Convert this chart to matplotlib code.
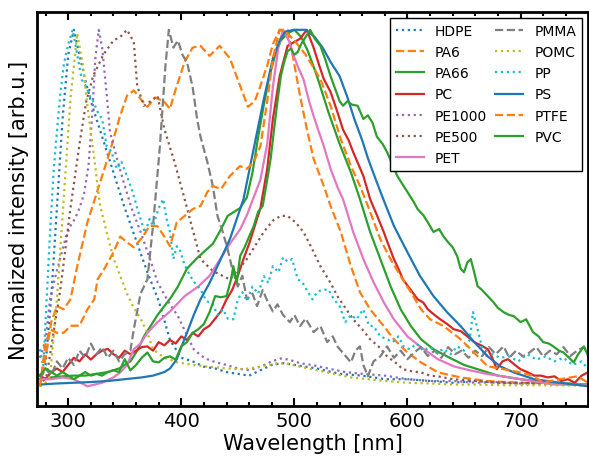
# %%
import numpy as np
import matplotlib
matplotlib.use('Agg')
import matplotlib.pyplot as plt
from matplotlib.ticker import MultipleLocator

# %%
# normalized emission spectra (wavelength in nm)
hdpe_wl = [275, 280, 285, 290, 295, 300, 305, 310, 315, 320, 330, 340, 350, 360, 370, 380, 390, 400, 410,
           420, 430, 440, 450, 460, 470, 480, 490, 500, 510, 520, 540, 560, 580, 600, 620, 640, 660, 680,
           700, 720, 740, 760]
hdpe_int = [0.03, 0.06, 0.25, 0.5, 0.75, 0.93, 1.0, 0.93, 0.86, 0.8, 0.7, 0.6, 0.5, 0.41, 0.32, 0.24, 0.13,
            0.08, 0.07, 0.055, 0.05, 0.04, 0.035, 0.03, 0.045, 0.06, 0.065, 0.06, 0.055, 0.05, 0.035, 0.03,
            0.02, 0.02, 0.015, 0.01, 0.015, 0.01, 0.008, 0.01, 0.005, 0.005]

pa6_wl = [275, 280, 285, 290, 296, 302, 308, 317, 326, 337, 346, 352, 358, 364, 370, 377, 385, 390, 396,
          403, 410, 417, 425, 434, 443, 452, 459, 465, 470, 476, 481, 487, 494, 499, 505, 511, 517, 526,
          532, 541, 550, 558, 567, 579, 588, 600, 612, 627, 647, 670, 700, 730, 760]
pa6_int = [0.0, 0.08, 0.18, 0.225, 0.216, 0.244, 0.337, 0.46, 0.55, 0.66, 0.76, 0.815, 0.83, 0.806,
           0.784, 0.81, 0.798, 0.778, 0.843, 0.91, 0.95, 0.955, 0.927, 0.955, 0.92, 0.843, 0.784, 0.80,
           0.843, 0.90, 0.96, 1.0, 1.0, 0.92, 0.815, 0.722, 0.638, 0.562, 0.506, 0.433, 0.337, 0.264,
           0.216, 0.169, 0.132, 0.095, 0.067, 0.039, 0.025, 0.015, 0.01, 0.008, 0.005]

pa66_wl = [275, 285, 295, 305, 315, 325, 335, 345, 355, 361, 367, 373, 379, 385, 391, 397, 405, 414, 421,
           428, 435, 441, 447, 452, 458, 463, 468, 473, 478, 483, 488, 494, 500, 506, 512, 520, 530, 540,
           550, 558, 567, 576, 585, 594, 603, 612, 623, 635, 650, 665, 680, 700, 720, 740, 760]
pa66_int = [0.02, 0.025, 0.028, 0.03, 0.03, 0.035, 0.04, 0.05, 0.07, 0.1, 0.14, 0.17, 0.2, 0.225, 0.25,
            0.28, 0.33, 0.36, 0.38, 0.40, 0.44, 0.478, 0.49, 0.50, 0.53, 0.6, 0.7, 0.79, 0.87, 0.93, 0.97,
            0.99, 1.0, 0.98, 0.94, 0.87, 0.77, 0.68, 0.6, 0.525, 0.433, 0.357, 0.281, 0.216, 0.169, 0.132,
            0.104, 0.084, 0.06, 0.045, 0.03, 0.02, 0.012, 0.008, 0.005]

pc_wl = [275, 280, 285, 290, 295, 300, 305, 310, 315, 320, 325, 330, 335, 340, 345, 350, 355, 360, 365,
         370, 375, 380, 385, 390, 395, 400, 405, 410, 415, 420, 425, 430, 435, 440, 445, 450, 455, 460,
         465, 470, 476, 481, 487, 494, 500, 505, 511, 517, 522, 526, 532, 538, 543, 548, 552, 557, 561,
         567, 573, 579, 584, 588, 592, 596, 603, 609, 614, 618, 624, 629, 635, 641, 647, 653, 659, 665,
         671, 675, 679, 684, 689, 695, 700, 706, 712, 718, 724, 730, 736, 742, 748, 754, 760]
pc_int = [0.03, 0.02, 0.04, 0.05, 0.04, 0.06, 0.08, 0.07, 0.09, 0.075, 0.09, 0.1, 0.105, 0.09, 0.08, 0.1,
          0.09, 0.1, 0.11, 0.112, 0.1, 0.124, 0.115, 0.13, 0.12, 0.14, 0.13, 0.15, 0.14, 0.16, 0.17, 0.19,
          0.21, 0.244, 0.27, 0.31, 0.357, 0.40, 0.45, 0.5, 0.61, 0.75, 0.87, 0.955, 0.966, 0.975, 1.0,
          0.95, 0.9, 0.862, 0.826, 0.77, 0.72, 0.69, 0.657, 0.62, 0.59, 0.525, 0.48, 0.433, 0.39, 0.357,
          0.33, 0.30, 0.27, 0.244, 0.235, 0.216, 0.2, 0.188, 0.175, 0.16, 0.155, 0.14, 0.124, 0.115, 0.104,
          0.08, 0.048, 0.07, 0.076, 0.06, 0.048, 0.04, 0.03, 0.03, 0.025, 0.028, 0.015, 0.02, 0.01, 0.03,
          0.04]

pe1000_wl = [275, 280, 284, 288, 293, 298, 302, 306, 310, 314, 318, 321, 324, 327, 330, 334, 337, 343, 349,
             356, 364, 372, 379, 388, 397, 404, 411, 418, 423, 430, 440, 450, 460, 470, 480, 488, 495, 505,
             515, 530, 545, 560, 580, 600, 620, 640, 660, 680, 700, 720, 740, 760]
pe1000_int = [0.08, 0.13, 0.244, 0.30, 0.36, 0.42, 0.45, 0.47, 0.5, 0.54, 0.62, 0.75, 0.92, 1.0, 0.95,
              0.82, 0.713, 0.64, 0.573, 0.50, 0.433, 0.36, 0.292, 0.24, 0.197, 0.15, 0.104, 0.085, 0.076,
              0.068, 0.06, 0.05, 0.045, 0.055, 0.07, 0.078, 0.075, 0.065, 0.06, 0.05, 0.04, 0.035, 0.03,
              0.02, 0.015, 0.015, 0.01, 0.012, 0.008, 0.01, 0.006, 0.005]

pe500_wl = [275, 281, 287, 293, 302, 310, 316, 322, 331, 340, 346, 352, 358, 361, 367, 373, 379, 385, 394,
            403, 410, 417, 428, 443, 458, 473, 481, 488, 494, 501, 508, 515, 523, 532, 538, 545, 552, 560,
            567, 575, 582, 590, 596, 604, 612, 620, 627, 640, 660, 680, 700, 730, 760]
pe500_int = [0.0, 0.03, 0.15, 0.27, 0.5, 0.68, 0.8, 0.87, 0.93, 0.97, 0.98, 1.0, 0.966, 0.843, 0.787,
             0.80, 0.815, 0.722, 0.629, 0.525, 0.44, 0.357, 0.323, 0.30, 0.357, 0.433, 0.465, 0.478, 0.478,
             0.46, 0.433, 0.39, 0.337, 0.29, 0.253, 0.22, 0.188, 0.16, 0.132, 0.11, 0.084, 0.065, 0.048,
             0.042, 0.039, 0.03, 0.028, 0.02, 0.015, 0.01, 0.01, 0.005, 0.005]

pet_wl = [275, 285, 295, 305, 317, 330, 340, 346, 352, 358, 364, 370, 379, 390, 403, 415, 425, 435, 443,
          452, 458, 464, 470, 476, 481, 486, 490, 495, 499, 504, 508, 513, 517, 521, 526, 532, 538, 543,
          552, 561, 570, 579, 588, 600, 611, 627, 641, 655, 670, 690, 710, 730, 760]
pet_int = [0.02, 0.02, 0.025, 0.02, 0.0, 0.01, 0.025, 0.039, 0.06, 0.104, 0.12, 0.15, 0.18, 0.21, 0.253,
           0.28, 0.31, 0.36, 0.40, 0.44, 0.48, 0.53, 0.58, 0.68, 0.84, 0.955, 1.0, 0.97, 0.93, 0.89, 0.862,
           0.80, 0.758, 0.72, 0.674, 0.61, 0.56, 0.525, 0.433, 0.357, 0.292, 0.236, 0.188, 0.14, 0.112,
           0.076, 0.056, 0.045, 0.035, 0.025, 0.015, 0.005, 0.005]

pmma_wl = [275, 280, 285, 290, 295, 300, 305, 310, 315, 320, 325, 330, 335, 340, 345, 350, 355,
           358, 364, 370, 375, 381, 386, 389, 393, 397, 401,
           405, 410, 414, 417, 423, 428, 432, 436, 441, 445,
           450, 454, 458, 463, 467, 472, 476, 481, 485, 490,
           496, 500, 505, 510, 517, 523, 529, 534, 538, 544,
           550, 554, 558, 561, 565, 570, 576, 582, 588, 594,
           600, 606, 612, 618, 624, 630, 636, 642, 648, 654,
           660, 666, 672, 678, 685, 690, 696, 702, 708, 714,
           720, 726, 732, 738, 744, 750, 756, 760]
pmma_int = [0.02, 0.05, 0.03, 0.07, 0.05, 0.08, 0.06, 0.1, 0.08, 0.12, 0.09, 0.11, 0.08, 0.1, 0.07, 0.09, 0.1,
            0.16, 0.26, 0.3, 0.45, 0.67, 0.9, 1.0, 0.95, 0.97, 0.93,
            0.91, 0.84, 0.75, 0.70, 0.63, 0.56, 0.478, 0.44, 0.385, 0.33,
            0.28, 0.31, 0.244, 0.26, 0.225, 0.27, 0.24, 0.21, 0.23, 0.20,
            0.18, 0.2, 0.169, 0.19, 0.152, 0.169, 0.124, 0.14, 0.112, 0.09,
            0.067, 0.1, 0.112, 0.06, 0.028, 0.07, 0.084, 0.112, 0.08, 0.1,
            0.076, 0.095, 0.11, 0.085, 0.1, 0.08, 0.11, 0.09, 0.1, 0.08,
            0.1, 0.085, 0.11, 0.09, 0.112, 0.08, 0.1, 0.084, 0.095, 0.11,
            0.084, 0.1, 0.09, 0.11, 0.085, 0.1, 0.11, 0.09]

pomc_wl = [275, 280, 284, 290, 296, 302, 308, 313, 318, 323, 328, 335, 340, 346, 352, 358, 364, 370, 375,
           385, 397, 410, 425, 440, 455, 470, 485, 495, 505, 520, 535, 550, 565, 580, 600, 620, 640, 660,
           690, 720, 760]
pomc_int = [0.0, 0.01, 0.03, 0.244, 0.525, 0.806, 0.99, 0.9, 0.76, 0.64, 0.51, 0.42, 0.36, 0.31, 0.26,
            0.22, 0.19, 0.15, 0.104, 0.08, 0.067, 0.06, 0.055, 0.05, 0.048, 0.055, 0.065, 0.063, 0.055,
            0.045, 0.035, 0.025, 0.02, 0.015, 0.01, 0.008, 0.005, 0.005, 0.003, 0.003, 0.002]

pp_wl = [275, 278, 281, 284, 287, 290, 293, 296, 300, 304,
         308, 312, 316, 319, 322, 326, 330, 334, 338, 343,
         347, 352, 357, 361, 364, 368, 372, 375, 380, 384,
         387, 390, 393, 396, 399, 403, 408, 412, 417, 422,
         428, 432, 437, 441, 446, 450, 454, 458, 463, 468,
         473, 477, 481, 486, 490, 494, 498, 503, 507, 512,
         516, 520, 524, 530, 535, 540, 545, 550, 555, 561,
         566, 570, 576, 582, 587, 592, 597, 602, 608, 614,
         620, 626, 632, 638, 644, 650, 655, 658, 662, 668,
         675, 682, 690, 698, 706, 714, 722, 730, 738, 746,
         754, 760]
pp_int = [0.104, 0.056, 0.25, 0.433, 0.6, 0.713, 0.82, 0.9, 0.96, 1.0,
          0.93, 0.86, 0.84, 0.815, 0.8, 0.77, 0.75, 0.674, 0.66, 0.61,
          0.63, 0.59, 0.545, 0.5, 0.469, 0.43, 0.47, 0.449, 0.5, 0.525,
          0.47, 0.433, 0.357, 0.393, 0.38, 0.34, 0.309, 0.29, 0.272, 0.24,
          0.23, 0.2, 0.216, 0.19, 0.188, 0.244, 0.264, 0.24, 0.28, 0.26,
          0.309, 0.29, 0.337, 0.32, 0.362, 0.35, 0.357, 0.30, 0.292, 0.264,
          0.244, 0.264, 0.27, 0.272, 0.244, 0.225, 0.18, 0.2, 0.188, 0.216,
          0.17, 0.169, 0.14, 0.132, 0.124, 0.14, 0.11, 0.104, 0.12, 0.1,
          0.11, 0.095, 0.105, 0.09, 0.112, 0.1, 0.13, 0.208, 0.16, 0.084,
          0.09, 0.08, 0.084, 0.07, 0.09, 0.075, 0.084, 0.07, 0.08, 0.06,
          0.07, 0.048]

ps_wl = [275, 290, 305, 320, 335, 350, 365, 375, 385, 390, 396, 400, 405, 411, 417, 425, 432, 443, 455, 464,
         473, 481, 487, 492, 500, 510, 518, 525, 532, 540, 547, 553, 560, 565, 572, 578, 588, 600, 611, 623,
         635, 647, 659, 671, 682, 694, 712, 735, 760]
ps_int = [0.005, 0.008, 0.01, 0.012, 0.015, 0.02, 0.025, 0.03, 0.04, 0.05, 0.076, 0.11, 0.15, 0.2, 0.244,
          0.29, 0.337, 0.413, 0.525, 0.666, 0.806, 0.92, 0.97, 0.995, 1.0, 1.0, 0.98, 0.95, 0.91, 0.87,
          0.81, 0.75, 0.69, 0.64, 0.58, 0.53, 0.45, 0.376, 0.31, 0.253, 0.208, 0.169, 0.124, 0.084, 0.056,
          0.039, 0.02, 0.01, 0.0]

ptfe_wl = [275, 280, 284, 290, 296, 302, 310, 317, 323, 326, 332, 340, 346, 352, 358, 366, 372, 379, 385,
           390, 396, 403, 410, 417, 423, 428, 435, 443, 452, 458, 464, 470, 476, 481, 487, 494, 500, 510,
           523, 532, 541, 550, 558, 565, 576, 585, 594, 603, 612, 620, 632, 647, 656, 671, 685, 700, 710,
           720, 735, 750, 760]
ptfe_int = [0.0, 0.12, 0.16, 0.15, 0.15, 0.17, 0.17, 0.216, 0.244, 0.3, 0.33, 0.376, 0.42, 0.404, 0.39,
            0.42, 0.45, 0.449, 0.42, 0.393, 0.46, 0.478, 0.497, 0.506, 0.545, 0.562, 0.553, 0.59, 0.618,
            0.61, 0.629, 0.674, 0.80, 0.92, 1.0, 0.99, 0.97, 0.93, 0.862, 0.787, 0.694, 0.618, 0.562, 0.506,
            0.413, 0.357, 0.309, 0.264, 0.216, 0.188, 0.169, 0.132, 0.104, 0.056, 0.048, 0.039, 0.03, 0.011,
            0.02, 0.028, 0.01]

pvc_wl = [275, 280, 285, 290, 295, 300, 305, 310, 315, 320, 325, 330, 335, 340, 345, 350, 355, 360, 365, 370,
          375, 380, 385, 390, 395, 400, 405, 410, 415, 420, 425, 430, 435, 440,
          444, 446, 449, 452, 456, 460, 464, 468, 472, 476,
          479, 482, 485, 488, 491, 494, 497, 500, 503, 506,
          510, 514, 518, 523, 527, 532, 536, 540, 543, 547,
          551, 556, 561, 565, 569, 573, 578, 582, 587, 591,
          596, 600, 605, 609, 614, 618, 623, 628, 632, 636,
          640, 644, 647, 650, 653, 656, 659, 662, 666, 671,
          676, 680, 685, 690, 694, 700, 705, 711, 716, 720,
          725, 729, 734, 738, 743, 747, 751, 756, 760]
pvc_int = [0.03, 0.05, 0.04, 0.03, 0.04, 0.03, 0.02, 0.03, 0.04, 0.03, 0.035, 0.03, 0.04, 0.045, 0.04, 0.076,
           0.045, 0.06, 0.08, 0.095, 0.07, 0.067, 0.08, 0.084, 0.075, 0.112, 0.124, 0.15, 0.16, 0.175,
           0.208, 0.253, 0.25, 0.253,
           0.3, 0.337, 0.29, 0.365, 0.39, 0.42, 0.449, 0.49, 0.506, 0.58,
           0.638, 0.72, 0.798, 0.87, 0.91, 0.94, 0.947, 0.93, 0.938, 0.96,
           0.98, 1.0, 0.975, 0.955, 0.92, 0.87, 0.835, 0.8, 0.787, 0.8,
           0.79, 0.787, 0.75, 0.76, 0.74, 0.70, 0.68, 0.657, 0.62, 0.59,
           0.565, 0.545, 0.52, 0.497, 0.48, 0.46, 0.433, 0.441, 0.42, 0.404,
           0.39, 0.365, 0.33, 0.32, 0.348, 0.357, 0.32, 0.281, 0.27, 0.253,
           0.236, 0.22, 0.208, 0.2, 0.197, 0.18, 0.188, 0.152, 0.14, 0.124,
           0.12, 0.112, 0.1, 0.095, 0.08, 0.067, 0.09, 0.112, 0.084]

# %%
fig = plt.figure(figsize=(5.89, 4.64), dpi=100)
ax = fig.add_axes([0.063, 0.123, 0.935, 0.849])

lw = 1.6
ax.plot(hdpe_wl, hdpe_int, ':', color='C0', lw=lw, label='HDPE')
ax.plot(pa6_wl, pa6_int, '--', color='C1', lw=lw, label='PA6')
ax.plot(pa66_wl, pa66_int, '-', color='C2', lw=lw, label='PA66')
ax.plot(pc_wl, pc_int, '-', color='C3', lw=lw, label='PC')
ax.plot(pe1000_wl, pe1000_int, ':', color='C4', lw=lw, label='PE1000')
ax.plot(pe500_wl, pe500_int, ':', color='C5', lw=lw, label='PE500')
ax.plot(pet_wl, pet_int, '-', color='C6', lw=lw, label='PET')
ax.plot(pmma_wl, pmma_int, '--', color='C7', lw=lw, label='PMMA')
ax.plot(pomc_wl, pomc_int, ':', color='C8', lw=lw, label='POMC')
ax.plot(pp_wl, pp_int, ':', color='C9', lw=lw, label='PP')
ax.plot(ps_wl, ps_int, '-', color='C0', lw=lw, label='PS')
ax.plot(ptfe_wl, ptfe_int, '--', color='C1', lw=lw, label='PTFE')
ax.plot(pvc_wl, pvc_int, '-', color='C2', lw=lw, label='PVC')

ax.set_xlim(272.5, 759.5)
ax.set_ylim(-0.055, 1.05)
ax.set_yticks([])
ax.xaxis.set_major_locator(MultipleLocator(100))
ax.xaxis.set_minor_locator(MultipleLocator(20))
ax.tick_params(axis='x', which='both', direction='in', top=True, bottom=True, width=1.5, labelsize=14)
ax.tick_params(axis='x', which='major', length=6)
ax.tick_params(axis='x', which='minor', length=3)
for s in ax.spines.values():
    s.set_linewidth(2)

ax.set_xlabel('Wavelength [nm]', fontsize=15, labelpad=2)
ax.set_ylabel('Normalized intensity [arb.u.]', fontsize=15, labelpad=6)

ax.legend(ncol=2, loc='upper right', fontsize=10, fancybox=False, edgecolor='black', framealpha=1,
          handlelength=2.0, columnspacing=0.6, labelspacing=0.52, borderaxespad=0.45)

fig.savefig('out.png', dpi=100)
